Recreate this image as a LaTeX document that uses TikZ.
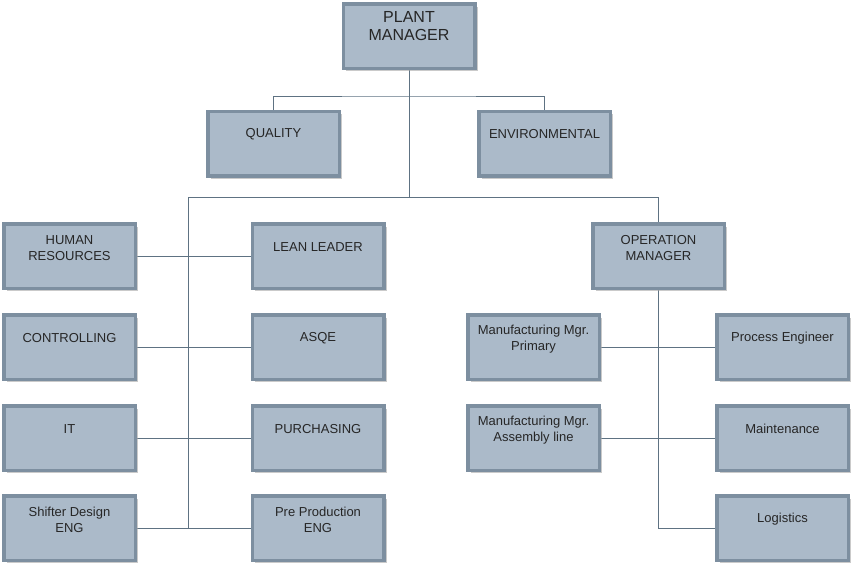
\documentclass[tikz,border=0pt]{standalone}
\usepackage{fontspec}
\setmainfont{Liberation Sans}
\usetikzlibrary{shadows,backgrounds}
\definecolor{boxfill}{HTML}{ABBAC9}
\definecolor{boxline}{HTML}{7D8FA0}
\definecolor{linec}{HTML}{5E7282}
\tikzset{
  box/.style={draw=boxline, fill=boxfill, line width=3.5pt, minimum width=131.5pt, minimum height=64.5pt, inner sep=0pt,
    drop shadow={shadow xshift=3pt, shadow yshift=-3pt, fill=black!35, opacity=.6}},
  txt/.style={align=center, font=\fontsize{13}{16}\selectfont, text=black!85, inner sep=0pt},
  bigtxt/.style={align=center, font=\fontsize{16}{18}\selectfont, text=black!85, inner sep=0pt},
  link/.style={draw=linec, line width=0.9pt}
}
\begin{document}
\begin{tikzpicture}[x=1pt,y=-1pt]
\useasboundingbox (0,0) rectangle (855,566);
% boxes
\node[box] (pm) at (409,36) {};
\node[box] (qual) at (273.5,143.5) {};
\node[box] (env) at (544.5,143.5) {};
\node[box] (hr) at (69.5,256) {};
\node[box] (ctrl) at (69.5,347) {};
\node[box] (it) at (69.5,438) {};
\node[box] (sd) at (69.5,528) {};
\node[box] (lean) at (318,256) {};
\node[box] (asqe) at (318,347) {};
\node[box] (purch) at (318,438) {};
\node[box] (ppe) at (318,528) {};
\node[box] (op) at (658.5,256) {};
\node[box] (mp) at (533.5,347) {};
\node[box] (ma) at (533.5,438) {};
\node[box] (pe) at (782.5,347) {};
\node[box] (mnt) at (782.5,438) {};
\node[box] (logi) at (782.5,528) {};
% texts
\node[bigtxt] (tpm) at ([yshift=10pt]pm.center) {PLANT\\MANAGER};
\node[txt] (tqual) at ([yshift=9pt]qual.center) {QUALITY};
\node[txt] (tenv) at ([yshift=9pt]env.center) {ENVIRONMENTAL};
\node[txt] (thr) at ([yshift=8pt]hr.center) {HUMAN\\RESOURCES};
\node[txt] (tctrl) at ([yshift=9pt]ctrl.center) {CONTROLLING};
\node[txt] (tit) at ([yshift=9pt]it.center) {IT};
\node[txt] (tsd) at ([yshift=8pt]sd.center) {Shifter Design\\ENG};
\node[txt] (tlean) at ([yshift=9pt]lean.center) {LEAN LEADER};
\node[txt] (tasqe) at ([yshift=9pt]asqe.center) {ASQE};
\node[txt] (tpurch) at ([yshift=9pt]purch.center) {PURCHASING};
\node[txt] (tppe) at ([yshift=8pt]ppe.center) {Pre Production\\ENG};
\node[txt] (top) at ([yshift=8pt]op.center) {OPERATION\\MANAGER};
\node[txt] (tmp) at ([yshift=8pt]mp.center) {Manufacturing Mgr.\\Primary};
\node[txt] (tma) at ([yshift=8pt]ma.center) {Manufacturing Mgr.\\Assembly line};
\node[txt] (tpe) at ([yshift=9pt]pe.center) {Process Engineer};
\node[txt] (tmnt) at ([yshift=9pt]mnt.center) {Maintenance};
\node[txt] (tlogi) at ([yshift=9pt]logi.center) {Logistics};
% connectors
\coordinate (j1) at (409,96);
\coordinate (j2) at (409,197);
\coordinate (j3) at (188,197);
\coordinate (j4) at (658.5,197);
\begin{scope}[on background layer]
\draw[link] (pm.south) -- (j2);
\draw[link] (qual.north) |- (j1) -| (env.north);
\draw[link] (j3) -- (j4);
\draw[link] (j3) |- (ppe.west);
\draw[link] (j4) -- (op.north);
\draw[link] (hr.east) -- (lean.west);
\draw[link] (ctrl.east) -- (asqe.west);
\draw[link] (it.east) -- (purch.west);
\draw[link] (sd.east) -- (ppe.west);
\draw[link] (op.south) |- (logi.west);
\draw[link] (mp.east) -- (pe.west);
\draw[link] (ma.east) -- (mnt.west);
\end{scope}
\end{tikzpicture}
\end{document}
